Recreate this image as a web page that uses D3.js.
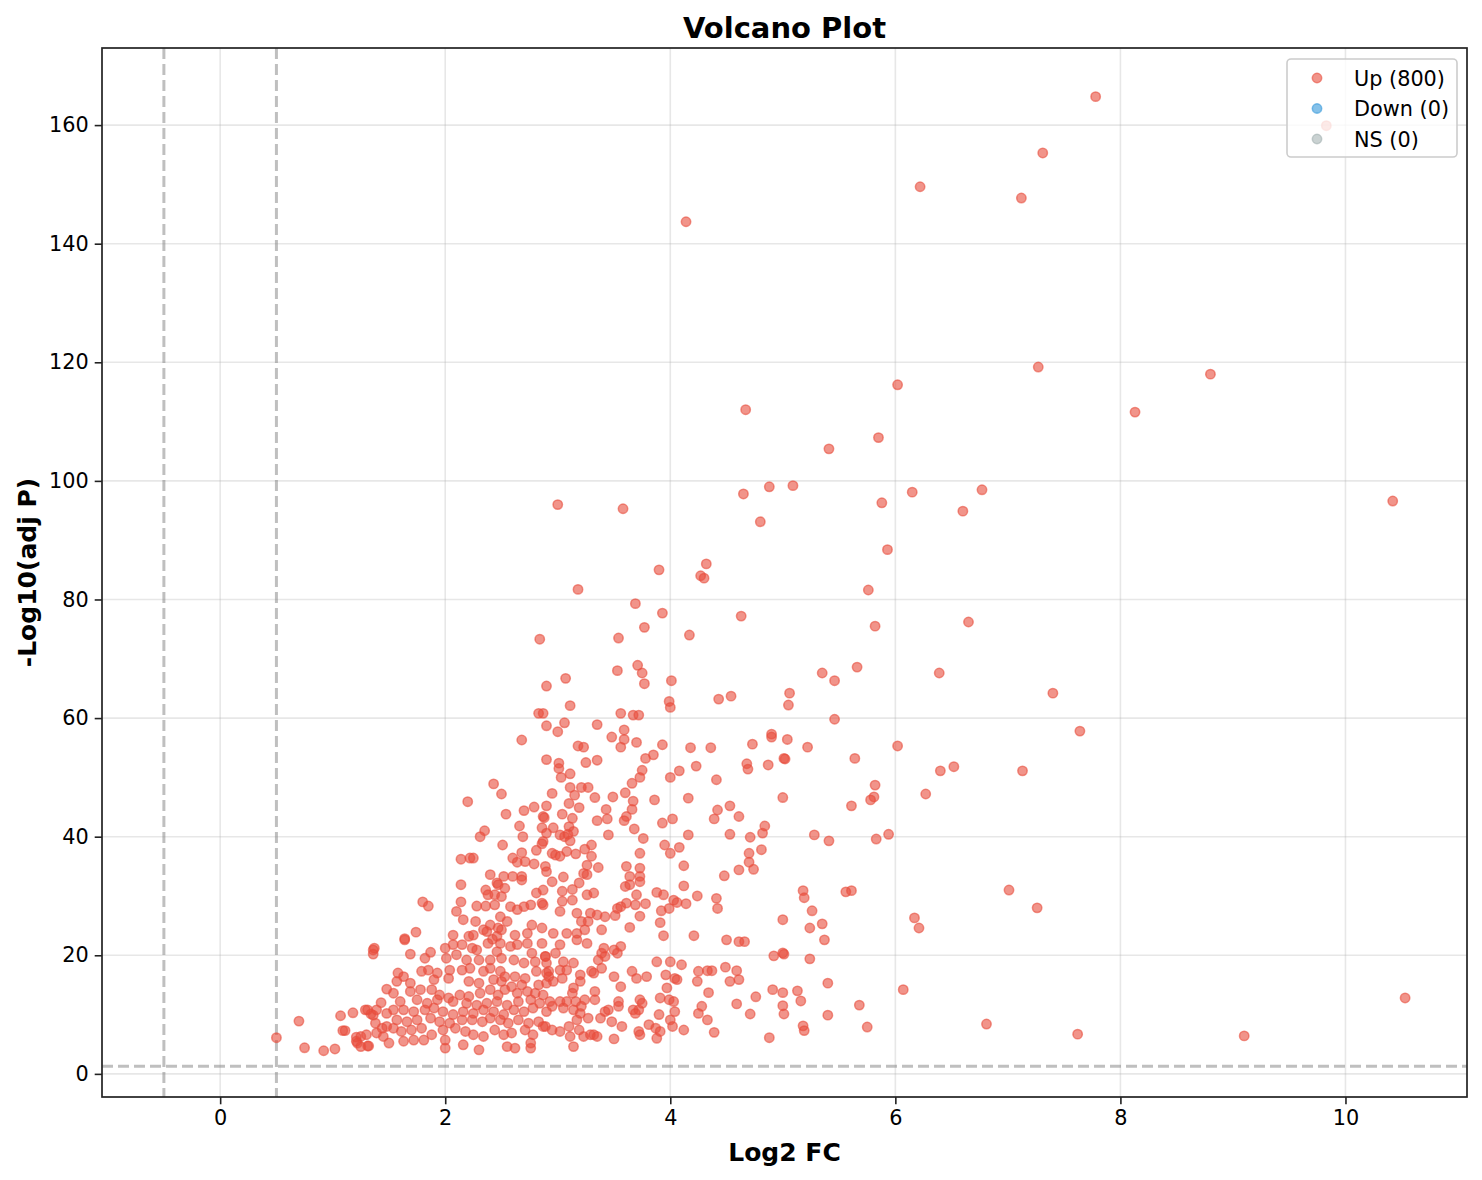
<!DOCTYPE html>
<html>
<head>
<meta charset="utf-8">
<script src="https://cdn.jsdelivr.net/npm/d3@7"></script>
<style>
  body { margin: 0; background: #fff; }
  svg { display: block; font-family: "DejaVu Sans", sans-serif; }
</style>
</head>
<body>
<svg id="chart" width="1482" height="1180"></svg>
<script>
// ---- data: [log2 fold change, -log10 adj p] ----
const upHigh = [
  [7.78,164.8],[9.83,159.9],[7.31,155.3],[6.22,149.6],[7.12,147.7],[4.14,143.7],[7.27,119.2],[8.80,118.0],
  [6.02,116.2],[4.67,112.0],[8.13,111.6],[5.85,107.3],[5.41,105.4],[4.88,99.0],[5.09,99.2],[6.77,98.5],
  [6.15,98.1],[4.65,97.8],[10.42,96.6],[5.88,96.3],[3.00,96.0],[3.58,95.3],[6.60,94.9],[4.80,93.1],
  [5.93,88.4],[4.32,86.0],[3.90,85.0],[4.27,84.0],[4.30,83.6],[3.18,81.7],[5.76,81.6],[3.69,79.3],
  [3.93,77.7],[4.63,77.2],[6.65,76.2],[3.77,75.3],[5.82,75.5],[4.17,74.0],[2.84,73.3],[3.54,73.5],
  [3.53,68.0],[5.66,68.6],[5.35,67.6],[6.39,67.6],[3.71,68.9],[3.75,67.6],[5.46,66.3],[4.01,66.3],
  [3.07,66.7],[2.90,65.4],[3.77,65.8],[7.40,64.2],[5.06,64.2],[4.54,63.7],[4.43,63.2],[7.64,57.8],
  [6.02,55.3],[6.52,51.8],[6.40,51.1],[7.13,51.1],[6.27,47.2]
];
const upMidLeft = [
  [3.11,62.1],[2.83,60.8],[2.87,60.8],[3.06,59.2],[2.90,58.7],[3.00,57.7],[3.35,58.9],[3.56,60.8],
  [3.67,60.5],[3.72,60.5],[3.48,56.8],[3.59,58.0],[3.59,56.4],[3.56,55.1],[3.70,55.9],[2.68,56.3],
  [3.18,55.3],[3.23,55.1],[2.90,53.0],[3.01,52.4],[3.01,51.5],[3.03,50.0],[3.11,50.6],[3.25,52.5],
  [3.35,52.9],[3.78,53.2],[2.43,48.9],[2.50,47.2],[2.20,45.9],[3.11,48.3],[3.21,48.3],[3.27,48.3],
  [3.15,47.0],[3.33,46.6],[2.95,47.3],[3.49,46.7],[3.66,49.0],[3.60,47.4],[3.67,46.0],[3.66,44.6],
  [3.73,50.0],[3.75,51.2],[2.70,44.4],[2.79,45.0],[2.90,45.2],[2.54,43.8],[3.10,45.6],[3.19,44.9],
  [3.04,43.8],[3.13,43.1],[2.87,43.4],[2.88,43.2],[3.43,44.6],[3.44,43.0],[3.35,42.7],[3.59,42.7],
  [3.61,43.4],[2.66,41.8],[2.86,41.5],[2.96,41.5],[3.10,41.7],[3.14,40.9],[3.09,40.4],[3.02,40.3],
  [2.90,40.6],[2.35,41.0],[2.31,40.0],[2.69,40.0],[3.06,40.0],[3.11,39.3],[2.87,39.2],[2.86,38.8],
  [2.51,38.6],[3.45,40.3],[3.68,41.3],[3.76,39.7],[2.68,37.3],[2.81,37.7],[2.95,37.2],[2.98,36.9],
  [3.02,36.7],[3.08,37.5],[3.16,37.1],[3.24,37.9],[3.30,38.6],[3.30,36.7],[2.14,36.2],[2.22,36.4],
  [2.25,36.4],[2.60,36.4],[2.64,35.7],[2.71,35.8],[2.79,35.4],[2.89,35.0],[2.90,34.1],[3.26,35.2],
  [3.36,34.8],[3.73,37.2],[3.61,35.0],[3.73,34.7],[2.40,33.6],[2.52,33.3],[2.60,33.3],[2.68,33.3],
  [3.05,33.2],[3.23,33.8],[3.26,33.6],[3.64,33.3],[3.73,33.3]
];
const upMidRight = [
  [3.99,62.8],[4.00,61.8],[5.05,62.2],[5.46,59.8],[3.93,55.5],[4.18,55.0],[4.36,55.0],[4.73,55.6],
  [4.90,57.3],[4.90,56.8],[5.04,56.4],[5.22,55.1],[5.64,53.2],[3.85,53.8],[4.23,51.9],[4.08,51.1],
  [4.00,50.0],[4.41,49.6],[4.68,52.3],[4.69,51.4],[4.87,52.1],[5.01,53.2],[5.02,53.1],[5.82,48.7],
  [5.81,46.7],[5.78,46.2],[5.61,45.2],[3.86,46.2],[4.16,46.5],[5.00,46.6],[4.42,44.5],[4.39,43.0],
  [4.61,43.4],[4.02,43.0],[3.93,42.3],[4.16,40.3],[4.53,40.4],[4.71,39.9],[4.84,41.8],[4.82,40.6],
  [5.28,40.3],[5.41,39.3],[5.83,39.6],[5.94,40.4],[3.95,38.6],[4.00,37.2],[4.08,38.2],[4.70,37.2],
  [4.70,35.7],[4.74,34.5],[4.81,37.8],[4.12,35.1],[4.48,33.4],[4.61,34.4],[4.53,45.2]
];
const upLowRight = [
  [5.18,30.9],[5.61,30.9],[5.56,30.7],[7.01,31.0],[5.19,29.7],[7.26,28.0],[5.26,27.5],[6.17,26.3],
  [6.21,24.6],[5.35,25.3],[5.24,24.6],[5.37,22.6],[5.00,26.0],[5.00,20.4],[5.01,20.2],[4.92,19.9],
  [5.24,19.4],[6.07,14.2],[4.91,14.2],[5.00,13.7],[5.13,14.0],[5.16,12.3],[5.00,11.5],[5.01,10.1],
  [5.18,8.1],[5.19,7.3],[5.40,9.9],[5.40,15.3],[5.75,7.9],[5.68,11.6],[4.76,13.0],[4.71,10.1],
  [4.88,6.1],[6.81,8.4],[7.62,6.7],[9.10,6.4],[10.53,12.8],[4.66,22.3]
];
const upLowMid = [
  [4.12,31.7],[4.24,30.0],[4.41,29.6],[4.42,27.9],[4.50,22.6],[4.61,22.3],[4.21,23.3],[3.94,23.3],
  [3.91,25.5],[3.92,27.5],[3.88,30.6],[3.94,30.2],[4.03,29.3],[4.06,28.9],[4.14,28.7],[3.99,27.9],
  [3.73,32.4],[3.64,31.9],[3.60,31.6],[3.70,30.2],[3.61,28.8],[3.56,28.2],[3.53,27.9],[3.69,28.5],
  [3.78,28.7],[3.73,26.6],[3.64,24.7],[4.33,17.4],[4.37,17.4],[4.49,18.0],[4.59,17.4],[4.53,15.6],
  [4.61,15.9],[4.34,13.7],[4.33,9.1],[4.39,7.0],[4.59,11.8]
];
const upLowLeft = [
  [2.46,32.2],[2.53,31.3],[2.50,29.9],[2.68,32.7],[2.81,30.5],[2.87,31.0],[2.95,32.4],[3.04,30.8],
  [3.13,31.1],[3.19,32.2],[3.26,30.2],[3.32,30.5],[2.86,28.8],[3.04,29.1],[3.13,29.3],[2.44,28.5],
  [2.58,28.2],[2.64,27.7],[2.70,28.2],[2.76,28.5],[2.87,28.5],[3.02,27.4],[3.17,27.1],[3.29,27.1],
  [3.35,26.8],[3.42,26.5],[3.51,26.7],[3.21,25.7],[3.27,25.7],[2.49,26.5],[2.55,25.7],[2.50,24.3],
  [2.46,23.2],[2.62,23.4],[2.73,23.7],[2.77,25.1],[2.86,24.6],[2.96,23.7],[3.08,23.7],[3.17,23.7],
  [3.24,24.3],[3.39,24.3],[3.17,22.6]
];
const upCluster = [
  [0.50,6.1],[0.70,8.9],[0.75,4.4],[0.92,3.9],[1.02,4.2],[1.07,9.8],[1.18,10.3],[1.11,7.3],
  [1.09,7.3],[1.21,6.2],[1.22,5.2],[1.25,4.6],[1.31,4.7],[1.29,10.8],[1.31,10.8],[1.36,9.9],
  [1.36,20.9],[1.37,21.2],[1.36,20.2],[1.43,12.0],[1.48,14.3],[1.64,22.8],[1.74,23.9],[1.80,29.0],
  [1.85,28.3],[2.14,31.9],[2.14,29.0],[2.10,27.4],[2.16,26.0],[2.27,25.7],[2.07,23.4],[2.21,23.2],
  [2.25,23.4],[2.36,31.0],[2.38,30.2],[2.44,30.2],[2.28,28.3],[2.36,28.3],[2.37,24.0],[2.42,22.7],
  [2.47,31.9],[2.34,24.3],[2.40,25.1],[2.47,24.6],
  [1.34,10.1],[1.39,10.8],[1.48,10.2],[1.38,8.55],[1.44,7.7],[1.48,8.0],[1.21,5.5],[1.25,6.3],
  [1.30,6.6],[1.39,6.9],[1.45,6.3],[1.50,5.2],[1.32,4.7]
];
const upDenseA = [
  [1.64,22.6],[2.00,21.2],[2.07,21.8],[2.15,21.8],[2.24,21.2],[2.28,20.9],[2.38,22.0],[2.46,20.6],
  [2.49,22.0],[2.58,21.5],[2.64,21.8],[2.73,22.0],[2.77,20.35],[2.86,22.0],[2.89,19.8],[1.69,20.2],
  [1.87,20.5],[1.82,19.5],[2.01,19.5],[2.10,20.1],[2.19,19.2],[2.30,19.2],[2.40,19.2],[2.50,19.5],
  [2.61,19.2],[2.70,18.7],[2.80,18.9],[2.90,18.7],
  [1.58,17.0],[1.63,16.4],[1.79,17.3],[1.85,17.5],[1.93,17.0],[2.04,17.5],[2.15,17.5],[2.22,17.8],
  [2.34,17.3],[2.40,17.8],[2.49,17.3],[2.53,16.4],[2.62,16.4],[2.71,16.1],[2.81,17.3],[2.90,17.0],
  [1.57,15.6],[1.69,15.3],[1.90,15.9],[2.03,16.1],[2.21,15.6],[2.30,15.3],[2.43,15.9],[2.50,15.6],
  [2.59,14.7],[2.68,15.0],[2.83,15.0],[2.90,15.3],
  [1.54,13.6],[1.69,13.9],[1.78,14.2],[1.88,14.2],[1.95,13.3],[2.03,12.8],[2.13,13.3],[2.21,13.05],
  [2.31,13.6],[2.40,14.2],[2.47,13.3],[2.53,14.2],[2.64,13.6],[2.73,13.9],[2.80,13.6],[2.87,13.3],
  [1.60,12.2],[1.75,12.5],[1.84,11.9],[1.93,12.5],[2.07,12.2],[2.19,11.9],[2.28,11.6],[2.37,11.9],
  [2.46,12.2],[2.55,11.6],[2.65,12.2],[2.76,12.5],[2.84,11.9],
  [1.54,10.8],[1.63,10.8],[1.72,10.5],[1.82,10.8],[1.90,11.1],[1.98,10.5],[2.07,10.0],[2.16,10.5],
  [2.25,10.2],[2.34,10.8],[2.43,10.5],[2.52,10.0],[2.61,10.8],[2.70,10.5],[2.78,11.1],[2.90,10.5],
  [1.57,9.1],[1.66,8.8],[1.75,9.1],[1.87,9.4],[1.95,8.8],[2.04,8.55],[2.15,9.1],[2.24,9.1],
  [2.33,8.8],[2.40,9.4],[2.49,9.1],[2.56,8.55],[2.65,9.1],[2.74,8.55],[2.83,8.8],
  [1.54,7.7],[1.61,7.15],[1.70,7.4],[1.79,7.7],[1.88,6.6],[1.98,7.4],[2.09,7.7],[2.18,7.15],
  [2.25,6.6],[2.34,6.3],[2.44,7.4],[2.52,6.6],[2.59,6.9],[2.71,7.4],[2.78,6.6],[2.87,8.0],
  [1.63,5.5],[1.72,5.7],[1.81,5.7],[2.00,5.7],[2.00,4.35],[2.16,4.9],[2.30,4.05],[2.55,4.6],
  [2.62,4.35],[2.76,5.2],[2.76,4.35]
];
const upDenseB = [
  [3.02,21.8],[3.26,22.0],[3.41,21.2],[3.39,20.35],[3.50,20.9],[3.56,21.5],[3.53,20.35],[3.42,19.8],
  [3.36,19.2],[2.98,20.35],[2.89,19.8],[3.05,18.9],[3.14,18.7],[3.02,17.5],[3.08,17.5],[2.92,17.3],
  [2.92,16.4],[2.96,15.6],[3.04,16.1],[3.20,16.7],[3.20,15.6],[3.30,17.3],[3.32,17.0],[3.39,17.8],
  [3.50,16.4],[3.56,14.7],[3.66,17.3],[3.70,16.1],[3.79,16.4],[3.88,18.9],[4.00,18.9],[4.10,18.4],
  [4.25,17.3],[4.24,15.6],[4.04,16.1],[4.06,15.9],[3.96,16.7],[3.97,14.5],[3.14,14.5],[3.13,13.6],
  [3.33,13.9],[3.24,12.5],[3.33,12.5],[3.54,12.2],[3.54,11.4],[3.73,12.5],[3.75,11.9],[3.72,10.8],
  [3.67,10.8],[3.69,10.2],[3.91,12.8],[3.99,12.5],[4.03,12.2],[3.90,10.0],[4.04,10.5],[4.00,9.1],
  [4.28,11.4],[4.25,10.2],[2.93,12.2],[3.02,12.2],[3.08,12.2],[3.16,12.2],[2.95,11.4],[3.05,11.1],
  [3.14,10.8],[3.21,11.4],[3.20,10.2],[3.27,9.4],[3.38,9.4],[3.42,10.5],[3.45,10.8],[3.48,8.8],
  [3.57,8.0],[3.17,9.1],[3.10,8.0],[2.95,7.4],[3.02,7.15],[3.11,6.3],[3.19,7.4],[3.23,6.3],
  [3.29,6.6],[3.32,6.6],[3.35,6.3],[3.50,5.9],[3.72,7.15],[3.73,6.6],[3.81,8.3],[3.87,7.7],
  [3.91,7.15],[3.88,6.0],[4.02,8.0],[4.12,7.4],[3.14,4.6],[2.89,8.0]
];

const upPoints = [].concat(upHigh, upMidLeft, upMidRight, upLowRight, upLowMid,
                           upLowLeft, upCluster, upDenseA, upDenseB);

const xTicks = [0, 2, 4, 6, 8, 10];
const yTicks = [0, 20, 40, 60, 80, 100, 120, 140, 160];
const fcCutoffs = [-0.5, 0.5];
const pCutoff = 1.3;
const legendLabels = ["Up (800)", "Down (0)", "NS (0)"];
const legendColors = ["#e74c3c", "#3498db", "#95a5a6"];
const legendAlpha = [0.6, 0.6, 0.5];

// ---- layout ----
const plot = {left: 102, right: 1467, top: 48, bottom: 1097};
const svg = d3.select("#chart");

const x = d3.scaleLinear().domain([-1.05, 11.08]).range([plot.left, plot.right]);
const y = d3.scaleLinear().domain([-3.9, 173]).range([plot.bottom, plot.top]);

// grid
const grid = svg.append("g");
grid.selectAll(".gx").data(xTicks).enter().append("line")
    .attr("x1", d => x(d)).attr("x2", d => x(d))
    .attr("y1", plot.top).attr("y2", plot.bottom)
    .attr("stroke", "#b0b0b0").attr("stroke-opacity", 0.3).attr("stroke-width", 1.6);
grid.selectAll(".gy").data(yTicks).enter().append("line")
    .attr("y1", d => y(d)).attr("y2", d => y(d))
    .attr("x1", plot.left).attr("x2", plot.right)
    .attr("stroke", "#b0b0b0").attr("stroke-opacity", 0.3).attr("stroke-width", 1.6);

// threshold lines
svg.selectAll(".vcut").data(fcCutoffs).enter().append("line")
    .attr("x1", d => x(d)).attr("x2", d => x(d))
    .attr("y1", plot.top).attr("y2", plot.bottom)
    .attr("stroke", "#808080").attr("stroke-opacity", 0.5)
    .attr("stroke-width", 3).attr("stroke-dasharray", "11,5");
svg.append("line")
    .attr("x1", plot.left).attr("x2", plot.right)
    .attr("y1", y(pCutoff)).attr("y2", y(pCutoff))
    .attr("stroke", "#808080").attr("stroke-opacity", 0.5)
    .attr("stroke-width", 3).attr("stroke-dasharray", "11,5");

// points
svg.append("g").selectAll("circle").data(upPoints).enter().append("circle")
    .attr("cx", d => x(d[0])).attr("cy", d => y(d[1]))
    .attr("r", 4.7)
    .attr("fill", "#e74c3c").attr("fill-opacity", 0.6)
    .attr("stroke", "#e74c3c").attr("stroke-opacity", 0.6).attr("stroke-width", 1.5);

// axes
const xAxis = svg.append("g").attr("transform", `translate(0,${plot.bottom})`)
    .call(d3.axisBottom(x).tickValues(xTicks).tickSize(7.3).tickPadding(6).tickFormat(d3.format("d")));
const yAxis = svg.append("g").attr("transform", `translate(${plot.left},0)`)
    .call(d3.axisLeft(y).tickValues(yTicks).tickSize(7.3).tickPadding(6).tickFormat(d3.format("d")));
[xAxis, yAxis].forEach(a => {
  a.select(".domain").remove();
  a.selectAll(".tick line").attr("stroke", "#222").attr("stroke-width", 1.6);
  a.selectAll(".tick text").attr("fill", "#000")
    .style("font-family", "DejaVu Sans").style("font-size", "20.8px");
});

// frame
svg.append("rect")
    .attr("x", plot.left).attr("y", plot.top)
    .attr("width", plot.right - plot.left).attr("height", plot.bottom - plot.top)
    .attr("fill", "none").attr("stroke", "#222").attr("stroke-width", 1.7);

// titles
svg.append("text").attr("x", (plot.left + plot.right) / 2).attr("y", 38)
    .attr("text-anchor", "middle").attr("font-weight", "bold").attr("font-size", "29px")
    .text("Volcano Plot");
svg.append("text").attr("x", (plot.left + plot.right) / 2).attr("y", 1161)
    .attr("text-anchor", "middle").attr("font-weight", "bold").attr("font-size", "25px")
    .text("Log2 FC");
svg.append("text")
    .attr("transform", `translate(36,${(plot.top + plot.bottom) / 2}) rotate(-90)`)
    .attr("text-anchor", "middle").attr("font-weight", "bold").attr("font-size", "25px")
    .text("-Log10(adj P)");

// legend
const legend = svg.append("g");
legend.append("rect")
    .attr("x", 1287).attr("y", 59).attr("width", 170).attr("height", 98)
    .attr("rx", 4).attr("fill", "#fff").attr("fill-opacity", 0.8)
    .attr("stroke", "#cccccc").attr("stroke-width", 1.6);
const rows = legend.selectAll(".row").data(legendLabels).enter().append("g")
    .attr("transform", (d, i) => `translate(1317,${78 + i * 30.5})`);
rows.append("circle").attr("r", 4.7)
    .attr("fill", (d, i) => legendColors[i]).attr("fill-opacity", (d, i) => legendAlpha[i])
    .attr("stroke", (d, i) => legendColors[i]).attr("stroke-opacity", (d, i) => legendAlpha[i])
    .attr("stroke-width", 1.5);
rows.append("text").attr("x", 37).attr("dy", "0.36em")
    .attr("font-size", "20.8px").text(d => d);
</script>
</body>
</html>
